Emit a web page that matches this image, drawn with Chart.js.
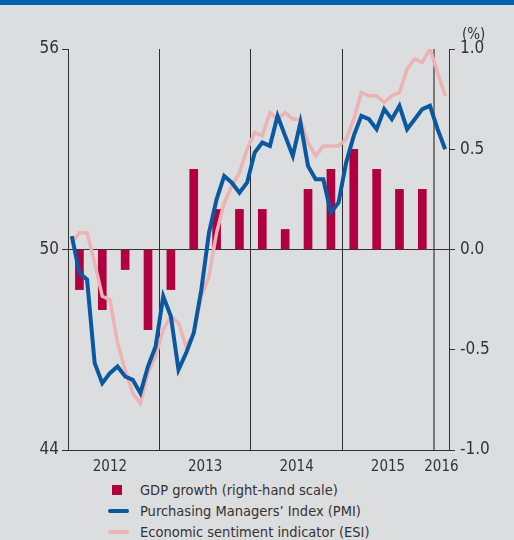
<!DOCTYPE html>
<html>
<head>
<meta charset="utf-8">
<script src="https://cdn.jsdelivr.net/npm/chart.js@4.4.1/dist/chart.umd.min.js"></script>
<style>
  body { margin: 0; background: #dcdddf; }
  #wrap { position: relative; width: 514px; height: 540px; background: #dcdddf; overflow: hidden;
          font-family: 'Liberation Sans Narrow', 'DejaVu Sans Condensed', Roboto, sans-serif; color: #333; }
  #band { position: absolute; left: 0; top: 0; width: 514px; height: 5px; background: #0062ab; }
  #chart { position: absolute; left: 0; top: 0; }
  #unit { position: absolute; left: 462px; top: 25px; font-size: 15px; }
  .row { position: absolute; left: 108px; height: 20px; line-height: 20px; font-size: 14.5px; }
  .row span.key { position: absolute; top: 50%; }
  .row span.txt { position: absolute; left: 32px; white-space: nowrap; }
</style>
</head>
<body>
<div id="wrap">
  <canvas id="chart" width="514" height="480"></canvas>
  <div id="band"></div>
  <div id="unit">(%)</div>
  <div class="row" style="top:480px"><span class="key" style="left:4px;width:10px;height:10px;margin-top:-5px;background:#b00040"></span><span class="txt">GDP growth (right-hand scale)</span></div>
  <div class="row" style="top:501px"><span class="key" style="left:0;width:21px;height:4px;margin-top:-2px;border-radius:2px;background:#0a58a0"></span><span class="txt">Purchasing Managers’ Index (PMI)</span></div>
  <div class="row" style="top:522px"><span class="key" style="left:0;width:21px;height:4px;margin-top:-2px;border-radius:2px;background:#ebb3b3"></span><span class="txt">Economic sentiment indicator (ESI)</span></div>
</div>
<script>
// years on the x axis, months Jan 2012 .. Feb 2016
const yearLabels = ['2012', '2013', '2014', '2015', '2016'];
const yearMid = [5.5, 18, 30, 42, 49];      // month position of each year label
const yearBreaks = [12, 24, 36, 48];        // vertical separator lines

// quarterly GDP growth, % (right scale), Q1 2012 .. Q4 2015
const gdpGrowth = [-0.2, -0.3, -0.1, -0.4, -0.2, 0.4, 0.2, 0.2, 0.2, 0.1, 0.3, 0.4, 0.5, 0.4, 0.3, 0.3];

// monthly PMI (left scale)
const pmi = [
  50.4, 49.3, 49.1, 46.6, 46.0, 46.3, 46.5, 46.2, 46.1, 45.7, 46.5, 47.1,
  48.6, 48.0, 46.4, 46.9, 47.5, 48.8, 50.5, 51.5, 52.2, 52.0, 51.7, 52.0,
  52.9, 53.2, 53.1, 54.0, 53.4, 52.8, 53.8, 52.5, 52.1, 52.1, 51.1, 51.4,
  52.6, 53.4, 54.0, 53.9, 53.6, 54.2, 53.9, 54.3, 53.6, 53.9, 54.2, 54.3,
  53.6, 53.0
];

// monthly ESI, as plotted against the left scale
const esi = [
  50.2, 50.5, 50.5, 49.6, 48.6, 48.5, 47.2, 46.4, 45.7, 45.4, 46.3, 46.8,
  47.6, 48.0, 47.8, 47.1, 47.5, 48.6, 49.2, 50.5, 51.4, 51.9, 52.3, 53.0,
  53.5, 53.4, 54.1, 53.9, 54.1, 53.9, 53.9, 53.2, 52.8, 53.1, 53.1, 53.1,
  53.3, 53.9, 54.7, 54.6, 54.6, 54.4, 54.6, 54.7, 55.4, 55.7, 55.6, 56.0,
  55.3, 54.6
];

const leftTicks = [44, 50, 56];
const rightTicks = [-1, -0.5, 0, 0.5, 1];

const FONT = "'Liberation Sans Narrow', 'DejaVu Sans Condensed', Roboto, sans-serif";
const INK = '#333';

new Chart(document.getElementById('chart'), {
  type: 'bar',
  data: {
    datasets: [
      {
        type: 'line',
        label: 'Purchasing Managers’ Index (PMI)',
        data: pmi.map((v, i) => ({ x: i + 0.5, y: v })),
        yAxisID: 'y',
        borderColor: '#0a58a0',
        borderWidth: 4,
        pointRadius: 0,
        tension: 0,
        order: 1
      },
      {
        type: 'line',
        label: 'Economic sentiment indicator (ESI)',
        data: esi.map((v, i) => ({ x: i + 0.5, y: v })),
        yAxisID: 'y',
        borderColor: '#ebb3b3',
        borderWidth: 3.5,
        pointRadius: 0,
        tension: 0,
        order: 2
      },
      {
        type: 'bar',
        label: 'GDP growth (right-hand scale)',
        data: gdpGrowth.map((v, q) => ({ x: q * 3 + 1.5, y: v })),
        yAxisID: 'y1',
        backgroundColor: '#b00040',
        barThickness: 8,
        order: 3
      }
    ]
  },
  options: {
    responsive: false,
    animation: false,
    layout: { padding: { top: 49, left: 0, right: 0, bottom: 0 } },
    plugins: {
      legend: { display: false },
      tooltip: { enabled: false }
    },
    scales: {
      x: {
        type: 'linear',
        position: 'bottom',
        offset: false,
        min: 0,
        max: 50,
        grid: { display: false },
        border: { display: true, color: INK, width: 1 },
        afterBuildTicks: s => { s.ticks = yearMid.map(v => ({ value: v })); },
        afterFit: s => { s.height = 30; },
        ticks: {
          autoSkip: false,
          maxRotation: 0,
          padding: 0,
          color: INK,
          font: { family: FONT, size: 15 },
          callback: (v, i) => yearLabels[i]
        }
      },
      x2: {
        type: 'linear',
        position: 'bottom',
        offset: false,
        min: 0,
        max: 50,
        border: { display: false },
        afterBuildTicks: s => { s.ticks = yearBreaks.map(v => ({ value: v })); },
        afterFit: s => { s.height = 0; },
        grid: {
          offset: false,
          drawTicks: false,
          color: c => c.tick && c.tick.value === 48 ? '#7a7a7a' : '#2e2e2e',
          lineWidth: c => c.tick && c.tick.value === 48 ? 2 : 1
        },
        ticks: { display: false }
      },
      y: {
        position: 'left',
        min: 44,
        max: 56,
        afterBuildTicks: s => { s.ticks = leftTicks.map(v => ({ value: v })); },
        afterFit: s => { s.width = 68; },
        border: { display: true, color: INK, width: 1 },
        grid: {
          color: c => c.tick && (c.tick.value === 50 || c.tick.value === 44) ? INK : 'rgba(0,0,0,0)',
          tickColor: INK,
          tickLength: 6
        },
        ticks: {
          padding: 3,
          color: INK,
          font: { family: FONT, size: 17 }
        }
      },
      y1: {
        position: 'right',
        min: -1,
        max: 1,
        afterBuildTicks: s => { s.ticks = rightTicks.map(v => ({ value: v })); },
        afterFit: s => { s.width = 65; },
        border: { display: true, color: INK, width: 1 },
        grid: {
          drawOnChartArea: false,
          tickColor: INK,
          tickLength: 6
        },
        ticks: {
          padding: 5,
          color: INK,
          font: { family: FONT, size: 17 },
          callback: v => v.toFixed(1)
        }
      }
    }
  }
});
</script>
</body>
</html>
